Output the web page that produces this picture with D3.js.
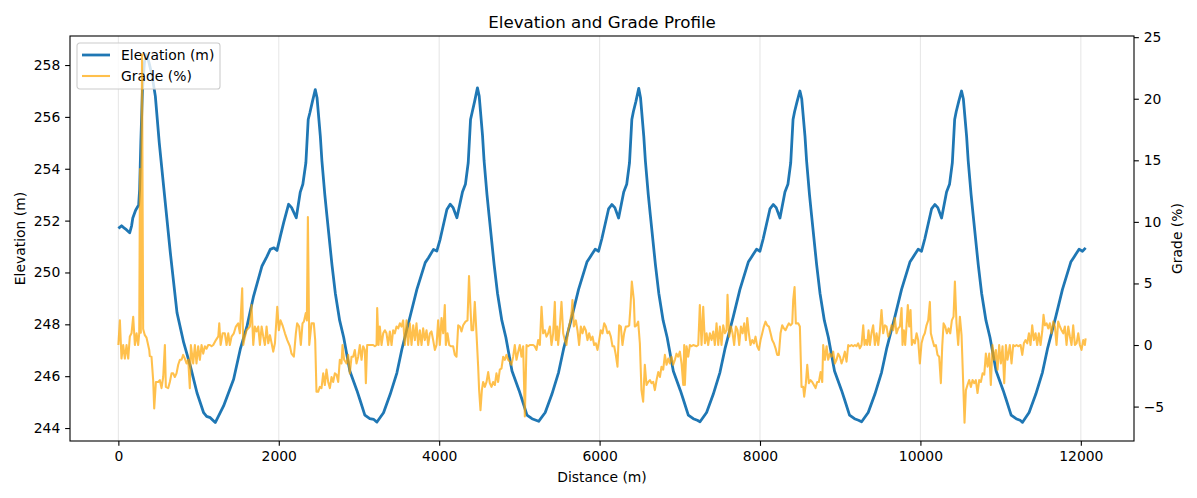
<!DOCTYPE html>
<html>
<head>
<meta charset="utf-8">
<script src="https://cdn.jsdelivr.net/npm/d3@7"></script>
<style>
  body { margin: 0; background: #fff; }
  text { font-family: "DejaVu Sans", sans-serif; }
</style>
</head>
<body>
<svg id="chart" width="1197" height="498"></svg>
<script>
// Elevation and grade profile, two y axes sharing the distance axis

const TITLE = "Elevation and Grade Profile";
const X_LABEL = "Distance (m)";
const LEFT_LABEL = "Elevation (m)";
const RIGHT_LABEL = "Grade (%)";
const SERIES_NAMES = ["Elevation (m)", "Grade (%)"];

const xTicks = [0, 2000, 4000, 6000, 8000, 10000, 12000];
const elevationTicks = [244, 246, 248, 250, 252, 254, 256, 258];
const gradeTicks = [-5, 0, 5, 10, 15, 20, 25];

// [distance m, elevation m]
const elevation = [
  [0,251.7],[40,251.8],[70,251.72],[100,251.65],[141,251.53],[165,251.8],[180,252.1],[215,252.4],[253,252.6],
  [265,253.2],[280,255.0],[300,257.0],[325,258.1],[345,258.41],[370,258.25],[420,257.6],[461,256.8],[510,255.0],
  [565,253.3],[648,250.76],[731,248.45],[814,247.3],[897,246.4],[980,245.36],[1063,244.59],[1100,244.45],
  [1146,244.4],[1208,244.21],
  [1312,244.85],[1437,245.88],[1520,247.04],[1604,247.93],[1686,249.09],[1791,250.25],[1850,250.6],[1894,250.89],
  [1940,250.95],[1978,250.85],[2020,251.4],[2061,251.92],[2122,252.63],[2160,252.5],[2218,252.11],[2268,253.1],
  [2300,253.4],[2338,254.23],[2367,255.9],[2388,256.16],[2420,256.6],[2455,257.05],
  [2477,256.74],[2518,255.26],[2538,254.3],[2574,253.0],[2600,252.2],[2663,250.3],[2705,249.2],[2759,248.15],
  [2809,247.5],[2886,246.2],[2974,245.45],[3011,245.1],[3073,244.5],[3135,244.36],[3185,244.33],[3224,244.23],
  [3306,244.59],[3389,245.3],[3473,246.13],[3535,247.04],[3639,248.32],[3722,249.35],[3826,250.38],[3867,250.57],
  [3929,250.89],[3971,250.83],[4012,251.28],[4096,252.43],[4137,252.63],[4174,252.5],[4221,252.11],[4290,253.1],
  [4327,253.4],[4362,254.23],[4391,255.9],[4410,256.16],[4442,256.6],[4477,257.12],
  [4499,256.8],[4540,255.3],[4560,254.3],[4596,253.0],[4622,252.2],[4685,250.3],[4727,249.2],[4781,248.15],
  [4831,247.5],[4908,246.2],[4996,245.45],[5033,245.1],[5095,244.5],[5157,244.36],[5207,244.3],[5240,244.26],
  [5322,244.6],[5405,245.3],[5489,246.15],[5551,247.05],[5655,248.3],[5738,249.35],[5842,250.4],[5883,250.6],
  [5945,250.9],[5987,250.82],[6028,251.3],[6112,252.45],[6153,252.62],[6190,252.5],[6237,252.1],[6301,253.1],
  [6338,253.4],[6373,254.23],[6402,255.9],[6421,256.2],[6453,256.6],[6488,257.1],
  [6510,256.75],[6551,255.25],[6571,254.3],[6607,253.0],[6633,252.2],[6696,250.3],[6738,249.2],[6792,248.15],
  [6842,247.5],[6919,246.2],[7007,245.45],[7044,245.1],[7106,244.5],[7168,244.36],[7218,244.3],[7252,244.24],
  [7334,244.6],[7417,245.3],[7501,246.15],[7563,247.05],[7667,248.3],[7750,249.35],[7854,250.4],[7895,250.6],
  [7957,250.9],[7999,250.82],[8040,251.3],[8124,252.45],[8165,252.62],[8202,252.5],[8249,252.1],[8311,253.1],
  [8348,253.4],[8383,254.23],[8412,255.9],[8431,256.2],[8463,256.6],[8498,257.0],
  [8520,256.7],[8561,255.25],[8581,254.3],[8617,253.0],[8643,252.2],[8706,250.3],[8748,249.2],[8802,248.15],
  [8852,247.5],[8929,246.2],[9017,245.45],[9054,245.1],[9116,244.5],[9178,244.36],[9228,244.3],[9267,244.24],
  [9349,244.6],[9432,245.3],[9516,246.15],[9578,247.05],[9682,248.3],[9765,249.35],[9869,250.4],[9910,250.6],
  [9972,250.9],[10014,250.82],[10055,251.3],[10139,252.45],[10180,252.62],[10217,252.5],[10264,252.1],[10326,253.1],
  [10363,253.4],[10398,254.23],[10427,255.9],[10446,256.2],[10478,256.6],[10513,257.0],
  [10535,256.7],[10576,255.25],[10596,254.3],[10632,253.0],[10658,252.2],[10721,250.3],[10763,249.2],[10817,248.15],
  [10867,247.5],[10944,246.2],[11032,245.45],[11069,245.1],[11131,244.5],[11193,244.36],[11243,244.3],[11273,244.22],
  [11355,244.6],[11438,245.3],[11522,246.15],[11584,247.05],[11688,248.3],[11771,249.35],[11875,250.4],[11916,250.6],
  [11978,250.9],[12020,250.82],[12060,250.95]
];

// [distance m, grade %]
const grade = [
  [0,0],[19,2.0],[39,-1.1],[60,0],[81,-1.1],[102,0],[123,-1.1],[143,0.7],[164,0.95],[185,2.3],[206,0],[227,0.95],
  [247,0],[260,0.95],[270,14.3],[280,1.0],[295,23.6],[309,1.3],[330,0.8],[351,0.6],[385,-0.4],[392,-0.9],[413,-0.95],
  [434,-2.85],[447,-5.15],[468,-3.0],[497,-3.0],[517,-2.85],[538,-3.5],[559,-2.6],[580,0],[592,-3.4],[621,-3.5],
  [642,-3.0],[663,-2.3],[684,-2.3],[704,-2.6],[725,-2.3],[746,-1.6],[767,-1.2],[788,-1.2],[808,-0.8],[829,-1.1],
  [850,-1.5],[871,-1.2],[891,-3.5],[904,0],[933,-1.5],[954,0],[974,-1.5],[995,-0.1],[1016,-1.2],[1037,0],[1058,-0.7],
  [1079,-0.1],[1099,-0.3],[1120,0],[1141,0],[1162,-0.1],[1183,0],[1216,0.4],[1246,0.7],[1258,1.76],[1275,0],
  [1300,0.95],[1328,0.95],[1349,0],[1370,0.95],[1390,0],[1411,0.68],[1440,0.95],[1465,1.5],[1494,1.76],[1515,0.95],
  [1544,4.6],[1557,0],[1578,0.68],[1598,1.2],[1640,1.5],[1661,3.25],[1682,0],[1702,1.5],[1723,1.1],[1744,1.5],
  [1765,0],[1786,1.5],[1807,0.68],[1827,0],[1848,1.5],[1869,0.14],[1890,0.8],[1911,0.14],[1931,-0.54],[1952,0.14],
  [1981,3.1],[2001,1.2],[2022,2.0],[2047,1.6],[2077,0.95],[2106,0.4],[2139,-0.1],[2159,-0.7],[2188,-0.95],
  [2213,0.95],[2229,1.76],[2254,1.5],[2275,0],[2296,1.76],[2313,1.9],[2337,2.6],[2350,2.0],[2363,10.4],[2380,0],
  [2408,1.76],[2437,1.76],[2454,0.4],[2470,-3.8],[2491,-3.8],[2512,-3.4],[2533,-3.5],[2554,-2.3],[2574,-3.25],
  [2595,-2.0],[2616,-3.0],[2637,-3.5],[2658,-2.6],[2678,-3.0],[2699,-2.3],[2720,-2.4],[2741,-3.0],[2761,-1.2],
  [2782,-1.5],[2795,0],[2815,-1.2],[2845,-1.5],[2865,-0.8],[2886,-2.3],[2907,-0.95],[2928,-0.95],[2948,-0.4],
  [2969,-1.5],[2990,-0.95],[3011,0],[3032,-1.2],[3052,-0.1],[3073,-0.4],[3086,-3.1],[3102,0],[3135,0],[3177,0],
  [3198,-0.1],[3219,0],[3227,3.0],[3244,0],[3260,1.5],[3281,0],[3302,0.95],[3323,1.2],[3343,0.95],[3364,0],
  [3385,1.1],[3406,0],[3426,1.2],[3447,0.95],[3468,1.5],[3489,1.35],[3510,1.76],[3530,1.5],[3551,2.0],[3572,0],
  [3593,2.0],[3613,0],[3634,1.76],[3655,0],[3676,1.6],[3697,0.4],[3717,1.76],[3738,0],[3759,1.2],[3780,0],
  [3800,1.35],[3821,0.4],[3842,1.2],[3863,0],[3884,0.95],[3904,1.1],[3925,0.4],[3946,-0.4],[3967,0],[3987,2.0],
  [4008,0],[4029,2.2],[4050,0.95],[4070,3.25],[4083,0],[4104,0.95],[4125,0],[4145,-0.1],[4174,-0.1],[4195,-0.8],
  [4216,-0.95],[4237,1.6],[4258,1.5],[4278,1.1],[4299,1.6],[4328,1.9],[4353,2.0],[4372,5.6],[4403,1.2],[4424,1.2],
  [4444,3.5],[4465,0.95],[4486,-1.76],[4498,-3.66],[4515,-5.3],[4532,-3.66],[4548,-3.0],[4569,-3.4],[4590,-3.0],
  [4611,-2.2],[4631,-3.1],[4652,-3.4],[4673,-3.0],[4694,-3.25],[4714,-2.3],[4735,-3.0],[4756,-2.0],[4777,-1.9],
  [4798,-0.95],[4818,-1.2],[4839,-0.8],[4860,-1.2],[4881,-1.35],[4901,-1.6],[4922,-0.95],[4943,0],[4964,-1.2],
  [4985,-0.54],[5005,0],[5026,-0.95],[5047,-0.1],[5068,-5.8],[5089,0],[5109,-0.1],[5130,0],[5172,0],[5192,-0.1],
  [5213,-0.4],[5234,0.4],[5255,0],[5276,3.1],[5296,0.95],[5317,1.2],[5338,0.68],[5359,0.95],[5380,1.5],[5400,0],
  [5421,0.95],[5442,3.5],[5454,0.4],[5471,1.5],[5483,0],[5504,1.5],[5525,3.5],[5546,0.95],[5566,0.4],[5587,0],
  [5608,1.2],[5629,1.76],[5650,2.6],[5662,3.66],[5679,1.5],[5704,2.0],[5724,1.2],[5745,0],[5766,1.5],[5787,0.95],
  [5808,1.5],[5828,1.2],[5849,0.4],[5870,0.95],[5891,0.4],[5912,0.68],[5932,0],[5953,0.14],[5974,-0.4],[5995,0.4],
  [6015,1.2],[6036,0.95],[6057,1.76],[6078,1.5],[6098,0.95],[6119,1.1],[6140,0.68],[6161,-0.1],[6182,-0.1],
  [6202,-0.8],[6223,-1.76],[6244,1.6],[6265,1.5],[6285,0],[6306,0.95],[6327,1.5],[6348,1.5],[6369,1.6],[6385,3.1],
  [6402,5.15],[6427,3.66],[6439,1.5],[6460,1.6],[6481,1.9],[6502,0.14],[6522,-3.66],[6543,-4.6],[6564,-1.6],
  [6585,-3.25],[6606,-3.0],[6627,-2.85],[6648,-3.1],[6669,-3.0],[6689,-3.66],[6710,-2.85],[6731,-2.2],[6752,-2.6],
  [6772,-1.76],[6793,-2.0],[6814,-0.8],[6835,-1.6],[6856,-1.1],[6876,-1.5],[6897,-0.95],[6918,-1.6],[6939,-1.2],
  [6959,-0.7],[6980,-0.95],[7001,-0.54],[7022,-1.5],[7043,-3.25],[7055,0],[7063,-3.25],[7084,-0.1],[7105,-0.95],
  [7126,0],[7146,-0.1],[7167,0],[7209,-0.1],[7230,0],[7250,3.25],[7271,0],[7292,3.1],[7313,0.14],[7334,0.95],
  [7354,0],[7375,0.95],[7396,0.4],[7417,1.1],[7437,0],[7458,1.76],[7479,0],[7500,1.5],[7520,0],[7541,1.6],
  [7562,0.95],[7583,1.2],[7595,4.07],[7616,0.68],[7637,1.5],[7658,0.95],[7678,0],[7699,1.5],[7720,1.2],[7741,0],
  [7762,1.5],[7783,0.95],[7803,1.76],[7824,0.4],[7841,2.2],[7861,0.95],[7882,0],[7903,0.4],[7924,0.14],[7944,0.68],
  [7965,-0.1],[7986,-0.4],[8007,0.4],[8028,0.95],[8048,1.5],[8069,1.9],[8090,1.6],[8111,1.5],[8132,0.95],[8152,0.4],
  [8173,0.14],[8194,-0.27],[8214,-0.8],[8235,-0.8],[8256,0.95],[8277,1.6],[8298,1.35],[8318,1.2],[8339,1.5],
  [8360,1.76],[8381,1.6],[8402,1.76],[8414,3.66],[8431,4.7],[8447,1.76],[8476,1.76],[8497,1.5],[8518,-3.4],
  [8539,-3.4],[8551,-4.2],[8572,-3.1],[8589,-1.6],[8609,-3.1],[8630,-2.85],[8651,-3.0],[8672,-3.25],[8693,-3.5],
  [8713,-3.0],[8734,-3.0],[8755,-2.2],[8776,-3.0],[8788,0],[8809,-1.2],[8830,-0.1],[8850,-1.2],[8871,-0.7],
  [8892,-0.95],[8913,-0.54],[8933,-1.5],[8954,-1.2],[8975,-0.7],[8996,-0.95],[9017,-1.5],[9037,-1.1],[9058,-0.54],
  [9079,-1.35],[9100,0],[9120,-0.1],[9141,0],[9162,-0.1],[9183,0],[9203,-0.1],[9224,0.14],[9245,-0.27],[9266,0],
  [9287,1.6],[9303,0],[9320,0.4],[9336,0],[9353,1.2],[9370,0],[9390,0.95],[9411,1.6],[9432,0],[9453,0.95],[9474,0],
  [9494,1.1],[9515,2.85],[9536,0.95],[9557,1.6],[9578,1.5],[9598,0.68],[9619,0.95],[9640,1.6],[9661,1.2],[9681,2.2],
  [9702,0.95],[9723,1.35],[9744,1.5],[9765,3.0],[9777,0],[9794,1.2],[9810,0],[9827,1.6],[9843,3.25],[9860,1.5],
  [9877,2.85],[9893,0],[9910,0.4],[9931,0.14],[9952,0.95],[9972,0.4],[9993,-1.5],[10014,0.14],[10035,0.68],
  [10055,0.95],[10076,1.6],[10097,2.0],[10118,3.5],[10130,0.95],[10151,0.4],[10172,-0.1],[10193,0],[10213,-0.8],
  [10234,-0.95],[10255,-3.1],[10272,-0.1],[10289,1.76],[10309,1.5],[10330,0.95],[10351,1.35],[10372,0.95],
  [10392,2.0],[10413,2.3],[10430,5.15],[10450,1.76],[10471,0],[10492,2.3],[10513,0.8],[10533,-3.0],[10550,-6.3],
  [10567,-3.66],[10587,-3.25],[10608,-2.85],[10629,-3.4],[10650,-2.85],[10671,-3.1],[10691,-2.85],[10712,-3.9],
  [10733,-2.85],[10754,-3.0],[10775,-2.3],[10796,-2.4],[10816,-0.7],[10837,-1.76],[10858,-0.7],[10878,-3.25],
  [10899,0],[10920,-1.2],[10941,-0.4],[10962,-2.0],[10982,0],[11003,-1.5],[11024,-0.1],[11045,-3.1],[11066,0],
  [11086,-1.2],[11115,0],[11136,-1.5],[11157,0],[11178,-0.1],[11199,0],[11220,-0.1],[11249,0],[11270,-0.8],
  [11290,0.14],[11311,0.4],[11332,0.14],[11353,0.95],[11373,0],[11394,1.6],[11415,0.4],[11436,0.95],[11456,0],
  [11477,0.95],[11498,0],[11519,1.1],[11535,2.45],[11552,1.6],[11573,1.76],[11594,1.35],[11614,1.76],[11635,0.95],
  [11656,1.9],[11677,1.5],[11697,0],[11718,1.9],[11739,1.5],[11760,1.2],[11781,0.95],[11801,1.5],[11822,0],
  [11843,1.5],[11864,0.68],[11884,0],[11905,1.6],[11926,0],[11947,0.14],[11968,0.95],[11988,0],[12009,-0.4],
  [12030,0.4],[12050,0],[12060,0.54]
];

const WIDTH = 1197;
const HEIGHT = 498;
const PLOT = { left: 70, right: 1134, top: 36, bottom: 441 };
const FONT = 13.9;
const ELEV_COLOR = "#1f77b4";
const GRADE_COLOR = "#ffa500";

// matplotlib style 5% margin around the data
function padded(ext) {
  const p = (ext[1] - ext[0]) * 0.05;
  return [ext[0] - p, ext[1] + p];
}

const x = d3.scaleLinear()
  .domain(padded(d3.extent(elevation.concat(grade), d => d[0])))
  .range([PLOT.left, PLOT.right]);
const yElev = d3.scaleLinear()
  .domain(padded(d3.extent(elevation, d => d[1])))
  .range([PLOT.bottom, PLOT.top]);
const yGrade = d3.scaleLinear()
  .domain(padded(d3.extent(grade, d => d[1])))
  .range([PLOT.bottom, PLOT.top]);

const svg = d3.select("#chart");
svg.append("rect").attr("width", WIDTH).attr("height", HEIGHT).attr("fill", "#fff");

const fmt = v => String(v).replace("-", "\u2212");

// vertical grid
svg.append("g").selectAll("line")
  .data(xTicks).enter().append("line")
  .attr("x1", d => x(d)).attr("x2", d => x(d))
  .attr("y1", PLOT.top).attr("y2", PLOT.bottom)
  .style("stroke", "#b0b0b0").style("stroke-opacity", 0.3).style("stroke-width", 1.1);

// clip for the lines
svg.append("clipPath").attr("id", "plot-clip")
  .append("rect")
  .attr("x", PLOT.left).attr("y", PLOT.top)
  .attr("width", PLOT.right - PLOT.left).attr("height", PLOT.bottom - PLOT.top);

const elevLine = d3.line().x(d => x(d[0])).y(d => yElev(d[1]));
const gradeLine = d3.line().x(d => x(d[0])).y(d => yGrade(d[1]));

svg.append("path")
  .datum(elevation)
  .attr("d", elevLine)
  .attr("clip-path", "url(#plot-clip)")
  .style("fill", "none")
  .style("stroke", ELEV_COLOR)
  .style("stroke-width", 2.78)
  .style("stroke-linejoin", "round");

// legend belongs to the left axes, so the grade line is drawn above it
const legend = svg.append("g").attr("transform", "translate(77,43)");
legend.append("rect")
  .attr("width", 143).attr("height", 46).attr("rx", 2.8)
  .style("fill", "#fff").style("fill-opacity", 0.8)
  .style("stroke", "#cccccc").style("stroke-width", 1.1);
const legendColors = [ELEV_COLOR, GRADE_COLOR];
const legendWidths = [2.78, 2.08];
const legendAlpha = [1, 0.7];
SERIES_NAMES.forEach((name, i) => {
  const cy = 12 + i * 21;
  legend.append("line")
    .attr("x1", 5).attr("x2", 33).attr("y1", cy).attr("y2", cy)
    .style("stroke", legendColors[i]).style("stroke-width", legendWidths[i])
    .style("stroke-opacity", legendAlpha[i]);
  legend.append("text")
    .attr("x", 44).attr("y", cy + 5)
    .style("font-size", FONT + "px")
    .text(name);
});

svg.append("path")
  .datum(grade)
  .attr("d", gradeLine)
  .attr("clip-path", "url(#plot-clip)")
  .style("fill", "none")
  .style("stroke", GRADE_COLOR)
  .style("stroke-opacity", 0.7)
  .style("stroke-width", 2.08)
  .style("stroke-linejoin", "round");

// axes
const TICK = 4.86;
const xAxis = d3.axisBottom(x).tickValues(xTicks).tickSize(TICK).tickPadding(4.86).tickFormat(d => d);
const leftAxis = d3.axisLeft(yElev).tickValues(elevationTicks).tickSize(TICK).tickPadding(4.86).tickFormat(d => d);
const rightAxis = d3.axisRight(yGrade).tickValues(gradeTicks).tickSize(TICK).tickPadding(4.86).tickFormat(fmt);

function styleAxis(g) {
  g.select(".domain").remove();
  g.selectAll(".tick line").style("stroke", "#000").style("stroke-width", 1.1);
  g.selectAll(".tick text")
    .style("font-family", "DejaVu Sans, sans-serif")
    .style("font-size", FONT + "px")
    .style("fill", "#000");
}

svg.append("g").attr("transform", `translate(0,${PLOT.bottom})`).call(xAxis).call(styleAxis);
svg.append("g").attr("transform", `translate(${PLOT.left},0)`).call(leftAxis).call(styleAxis);
svg.append("g").attr("transform", `translate(${PLOT.right},0)`).call(rightAxis).call(styleAxis);

// frame
svg.append("rect")
  .attr("x", PLOT.left).attr("y", PLOT.top)
  .attr("width", PLOT.right - PLOT.left).attr("height", PLOT.bottom - PLOT.top)
  .style("fill", "none").style("stroke", "#000").style("stroke-width", 1.1);

// titles
svg.append("text")
  .attr("x", (PLOT.left + PLOT.right) / 2).attr("y", 28)
  .attr("text-anchor", "middle")
  .style("font-size", "16.7px")
  .text(TITLE);
svg.append("text")
  .attr("x", (PLOT.left + PLOT.right) / 2).attr("y", 482)
  .attr("text-anchor", "middle")
  .style("font-size", FONT + "px")
  .text(X_LABEL);
svg.append("text")
  .attr("transform", `translate(25,${(PLOT.top + PLOT.bottom) / 2}) rotate(-90)`)
  .attr("text-anchor", "middle")
  .style("font-size", FONT + "px")
  .text(LEFT_LABEL);
svg.append("text")
  .attr("transform", `translate(1182,${(PLOT.top + PLOT.bottom) / 2}) rotate(-90)`)
  .attr("text-anchor", "middle")
  .style("font-size", FONT + "px")
  .text(RIGHT_LABEL);
</script>
</body>
</html>
